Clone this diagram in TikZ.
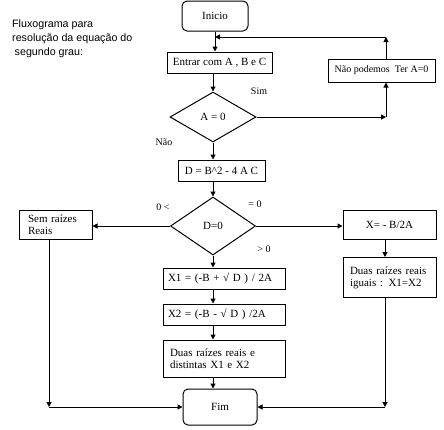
\documentclass[tikz,border=0pt]{standalone}
\usepackage{fontspec}
\setmainfont{Liberation Serif}
\newfontfamily\titlefont{Liberation Sans}
\usetikzlibrary{shapes.geometric,arrows.meta}
\begin{document}
\begin{tikzpicture}[x=1pt,y=-1pt,
  box/.style={draw,line width=1pt,inner sep=0pt,font=\fontsize{11}{12}\selectfont},
  dia/.style={draw,diamond,line width=1pt,inner sep=0pt,font=\fontsize{11}{12}\selectfont},
  arr/.style={line width=1pt,-{Triangle[width=5pt,length=5pt]}},
  lbl/.style={inner sep=0pt,font=\fontsize{10}{11}\selectfont}]
\useasboundingbox (0,0) rectangle (444,429);

\node[anchor=north west,align=left,inner sep=0pt,font=\titlefont\fontsize{10.7}{14}\selectfont] (title) at (12,20)
  {Fluxograma para\\resolução da equação do\\\hspace{2.5pt}segundo grau:};

\node[box,rounded corners=5pt,minimum width=66pt,minimum height=30pt] (inicio) at (215,16) {Inicio};
\node[box,minimum width=105pt,minimum height=21pt] (entrar) at (219.5,62.5) {Entrar com A , B e C};
\node[box,minimum width=107pt,minimum height=23pt,font=\fontsize{10}{12}\selectfont] (naop) at (381.5,70.5) {Não podemos\ \ Ter A=0};
\node[dia,minimum width=86pt,minimum height=50pt] (dA) at (213,117) {A = 0};
\node[box,minimum width=87pt,minimum height=21pt] (dbox) at (221.5,170.5) {D = B\textasciicircum 2 - 4 A C};
\node[dia,minimum width=85pt,minimum height=58pt] (dD) at (213,226) {D=0};
\node[box,minimum width=73pt,minimum height=29pt,text width=55pt,align=left] (sem) at (55.5,224.5) {Sem raízes\\Reais};
\node[box,minimum width=93pt,minimum height=29pt] (xbox) at (389.5,224.5) {X= - B/2A};
\node[box,minimum width=93pt,minimum height=40pt,text width=79pt,align=left] (iguais) at (389.5,277.5) {Duas raízes reais\\iguais : X1=X2};
\node[box,minimum width=122pt,minimum height=21pt,text width=112pt,align=left] (x1) at (224,278.5) {X1 = (-B + √ D ) / 2A};
\node[box,minimum width=122pt,minimum height=21pt,text width=112pt,align=left] (x2) at (224,314.5) {X2 = (-B - √ D ) /2A};
\node[box,minimum width=122pt,minimum height=37pt,text width=108pt,align=left] (dist) at (224,358.5) {Duas raízes reais e\\distintas X1 e X2};
\node[box,rounded corners=5pt,minimum width=74pt,minimum height=36pt] (fim) at (220,407) {Fim};

\node[lbl] (sim) at (259,91) {Sim};
\node[lbl] (nao) at (164,142) {Não};
\node[lbl] (lt) at (163,207) {0 <};
\node[lbl] (eq) at (255,204) {= 0};
\node[lbl] (gt) at (264,249) {> 0};

\coordinate (xr) at (386,0);
\coordinate (cT) at (386,37);
\coordinate (cR) at (dA.east -| xr);
\coordinate (xl) at (49,0);
\coordinate (cBL) at (fim.west -| xl);
\coordinate (xr2) at (385,0);
\coordinate (cBR) at (fim.east -| xr2);

\draw[arr] (inicio.south) -- (inicio.south |- entrar.north);
\draw[arr] (dA.north |- entrar.south) -- (dA.north);
\draw[arr] (dA.east) -- (cR);
\draw[arr] (cR) -- (cR |- naop.south);
\draw[arr] (cR |- naop.north) -- (cT);
\draw[arr] (cT) -- (cT -| inicio.south);
\draw[arr] (dA.south) -- (dA.south |- dbox.north);
\draw[arr] (dD.north |- dbox.south) -- (dD.north);
\draw[arr] (dD.west) -- (dD.west -| sem.east);
\draw[arr] (dD.east) -- (dD.east -| xbox.west);
\draw[arr] (dD.south) -- (dD.south |- x1.north);
\draw[arr] (dD.south |- x1.south) -- (dD.south |- x2.north);
\draw[arr] (dD.south |- x2.south) -- (dD.south |- dist.north);
\draw[arr] (dD.south |- dist.south) -- (dD.south |- fim.north);
\draw[arr] (sem.south -| xl) -- (cBL);
\draw[arr] (cBL) -- (fim.west);
\draw[arr] (xbox.south -| xr2) -- (iguais.north -| xr2);
\draw[arr] (iguais.south -| xr2) -- (cBR);
\draw[arr] (cBR) -- (fim.east);
\end{tikzpicture}
\end{document}
